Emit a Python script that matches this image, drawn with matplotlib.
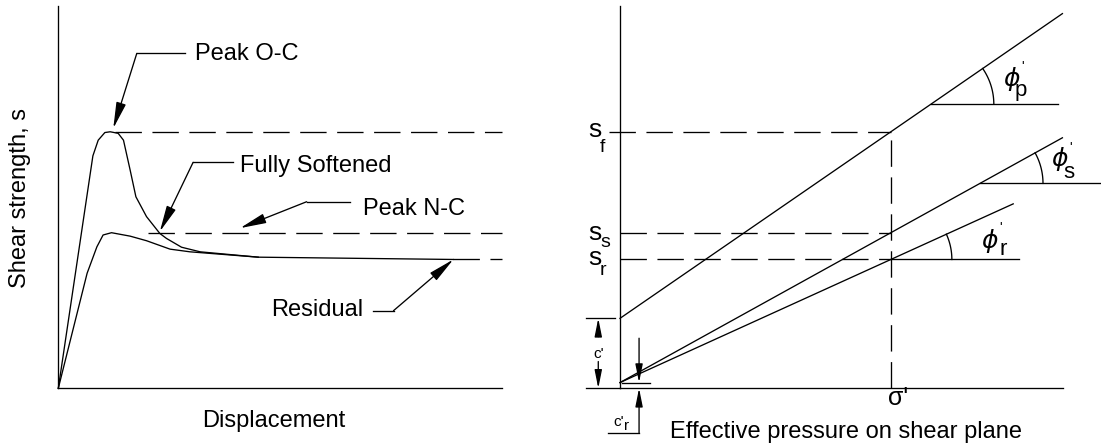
import numpy as np
import matplotlib.pyplot as plt

plt.rcParams['font.family'] = ['Liberation Sans', 'DejaVu Sans']
plt.rcParams['mathtext.fontset'] = 'dejavusans'

# ------------------------------
# Data (arbitrary units, both axes 0-100)
# ------------------------------
# strength levels shared by both panels
s_f = 67.1   # peak, over-consolidated
s_s = 40.7   # fully softened / peak N-C
s_r = 33.7   # residual

# stress-displacement curves
disp_oc = [0, 7.8, 9.0, 10.5, 11.7, 13.5, 14.7, 16.2, 17.5, 19.9, 22.9, 24.4, 27.8, 32.0, 45.1, 89.1]
shear_oc = [0, 60.8, 64.9, 66.9, 67.1, 66.7, 64.9, 57.1, 50.1, 44.9, 40.5, 39.2, 36.9, 35.7, 34.3, 33.7]
disp_nc = [0, 6.5, 8.7, 10.1, 12.0, 16.2, 19.9, 25.2, 29.7, 45.1]
shear_nc = [0, 30.1, 37.0, 40.1, 40.7, 39.8, 38.6, 36.4, 35.7, 34.3]

# where the dashed strength levels start on the displacement axis
dash_start = [12.8, 20.3, 89.1]

# failure envelopes
c_peak = 18.3     # c'
c_resid = 1.5     # c'_r
sigma_n = 61.1    # sigma'
env_end = [99.8, 99.8, 88.7]   # peak, fully softened, residual

# angle reference lines: (level, x end)
phi_ref_p = (74.3, 98.9)
phi_ref_s = (53.6, 108.3)
phi_ref_r = (s_r, 90.1)

FIG_W, FIG_H = 1101, 448
LEFT_POS = [58.3 / FIG_W, 59.7 / FIG_H, 443.4 / FIG_W, 382.3 / FIG_H]
RIGHT_POS = [620 / FIG_W, 59.7 / FIG_H, 443.3 / FIG_W, 382.3 / FIG_H]

LW = 0.95
DASH = (20, 8)
FS = 17


def setup(ax):
    ax.set_xlim(0, 100)
    ax.set_ylim(0, 100)
    ax.set_xticks([])
    ax.set_yticks([])
    for side in ["top", "right"]:
        ax.spines[side].set_visible(False)
    for side in ["left", "bottom"]:
        ax.spines[side].set_linewidth(LW)


def arrow(ax, tail, tip, hl=1.6, hw=0.3):
    ax.annotate("", xy=tip, xytext=tail, annotation_clip=False,
                arrowprops=dict(arrowstyle=f"-|>,head_length={hl},head_width={hw}",
                                mutation_scale=10, lw=LW, color="k",
                                shrinkA=0, shrinkB=0))


def line(ax, xs, ys, **kw):
    ax.plot(xs, ys, color="k", lw=LW, clip_on=False, **kw)


fig = plt.figure(figsize=(FIG_W / 100, FIG_H / 100), dpi=100)

# ==============================
# Left: shear strength vs displacement
# ==============================
ax1 = fig.add_axes(LEFT_POS)
setup(ax1)

line(ax1, disp_oc, shear_oc)
line(ax1, disp_nc, shear_nc)
for x0, lev in zip(dash_start, [s_f, s_s, s_r]):
    line(ax1, [x0, 100], [lev, lev], dashes=DASH)

# callouts: text, text position, leader (start, knee), arrow tip
callouts = [
    ("Peak O-C", (30.8, 85.9), (28.6, 17.7, 87.6), (12.4, 68.0)),
    ("Fully Softened", (41.0, 56.7), (39.5, 30.4, 59.1), (22.9, 41.0)),
    ("Peak N-C", (68.8, 45.3), (65.8, 56.0, 48.8), (41.0, 41.9)),
]
for txt, pos, (xa, xb, yl), tip in callouts:
    ax1.text(pos[0], pos[1], txt, fontsize=FS, ha="left", va="baseline")
    line(ax1, [xa, xb], [yl, yl])
    arrow(ax1, (xb, yl), tip)

ax1.text(48.1, 18.9, "Residual", fontsize=FS, ha="left", va="baseline")
line(ax1, [71.0, 75.6], [20.3, 20.3])
arrow(ax1, (75.6, 20.3), (89.1, s_r))

ax1.text(48.5, -10.0, "Displacement", fontsize=FS, ha="center", va="baseline")
ax1.text(-7.3, 49.7, "Shear strength, s", fontsize=FS, rotation=90,
         rotation_mode="anchor", ha="center", va="baseline")

# ==============================
# Right: failure envelopes
# ==============================
ax2 = fig.add_axes(RIGHT_POS)
setup(ax2)
px_x = RIGHT_POS[2] * FIG_W / 100
px_y = RIGHT_POS[3] * FIG_H / 100

envelopes = [(c_peak, s_f, env_end[0]), (c_resid, s_s, env_end[1]), (c_resid, s_r, env_end[2])]
slopes = []
for c, s, xe in envelopes:
    k = (s - c) / sigma_n
    slopes.append(k)
    line(ax2, [0, xe], [c, c + k * xe])

# dashed projections to sigma'
line(ax2, [-2.5, sigma_n], [s_f, s_f], dashes=DASH)
line(ax2, [0, sigma_n], [s_s, s_s], dashes=DASH)
line(ax2, [0, sigma_n], [s_r, s_r], dashes=DASH)
line(ax2, [sigma_n, sigma_n], [0, s_f], dashes=DASH)


def angle_mark(ax, c, k, level, x_end, r_px):
    x0 = (level - c) / k
    line(ax, [x0, x_end], [level, level])
    theta = np.arctan(k * px_y / px_x)
    t = np.linspace(0, theta, 40)
    line(ax, x0 + r_px * np.cos(t) / px_x, level + r_px * np.sin(t) / px_y)


angle_mark(ax2, c_peak, slopes[0], phi_ref_p[0], phi_ref_p[1], 63)
angle_mark(ax2, c_resid, slopes[1], phi_ref_s[0], phi_ref_s[1], 63)
angle_mark(ax2, c_resid, slopes[2], phi_ref_r[0], phi_ref_r[1], 61)

# phi labels: (phi centre, prime, subscript position, subscript)
phi_labels = [
    ((88.3, 80.9), (90.8, 84.0), (89.0, 76.5), "p"),
    ((99.3, 59.9), (101.7, 62.9), (100.0, 55.0), "s"),
    ((83.5, 38.4), (85.9, 41.9), (85.6, 34.9), "r"),
]
for (px, py), (qx, qy), (sx, sy), sub in phi_labels:
    ax2.text(px, py, r"$\phi$", fontsize=18, ha="center", va="center", clip_on=False)
    ax2.text(qx, qy, "'", fontsize=10, ha="center", va="center", clip_on=False)
    ax2.text(sx, sy, sub, fontsize=16, ha="left", va="baseline", clip_on=False)

# strength level labels
for lev_y, sub_y, sub in [(65.7, 61.8, "f"), (38.8, 37.0, "s"), (32.3, 29.7, "r")]:
    ax2.text(-7.2, lev_y, "s", fontsize=19, ha="left", va="baseline")
    ax2.text(-4.5, sub_y, sub, fontsize=14, ha="left", va="baseline")

ax2.text(60.5, -4.4, "σ'", fontsize=18, ha="left", va="baseline")
ax2.text(11.3, -13.0, "Effective pressure on shear plane", fontsize=FS,
         ha="left", va="baseline")

# c' dimension
line(ax2, [-7.6, -1.1], [c_peak, c_peak])
line(ax2, [-7.6, 0], [0, 0])
arrow(ax2, (-4.9, 13.5), (-4.9, c_peak), hl=1.1, hw=0.22)
arrow(ax2, (-4.9, 7.0), (-4.9, 0), hl=1.1, hw=0.22)
ax2.text(-4.9, 8.0, "c'", fontsize=11, ha="center", va="baseline")

# c'_r dimension
line(ax2, [0.5, 6.8], [c_resid, c_resid])
arrow(ax2, (4.3, 13.1), (4.3, c_resid), hl=1.1, hw=0.22)
arrow(ax2, (4.3, -11.8), (4.3, 0), hl=1.1, hw=0.22)
line(ax2, [-2.6, 4.3], [-11.8, -11.8])
ax2.text(-1.4, -9.9, "c'", fontsize=11, ha="left", va="baseline")
ax2.text(0.8, -11.0, "r", fontsize=11, ha="left", va="baseline")

fig.savefig("out.png", dpi=100)
